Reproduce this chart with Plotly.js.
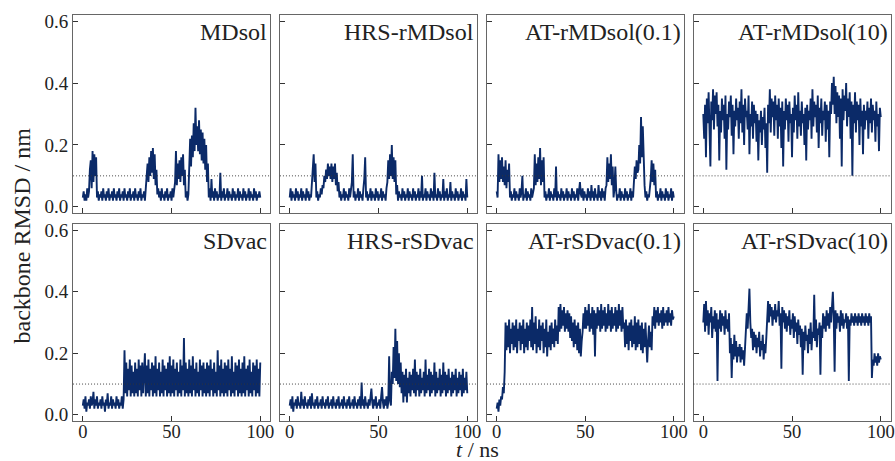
<!DOCTYPE html>
<html>
<head>
<meta charset="utf-8">
<script src="https://cdn.plot.ly/plotly-3.0.1.min.js"></script>
<style>html,body{margin:0;padding:0;background:#fff;}#chart{width:895px;height:461px;}</style>
</head>
<body>
<div id="chart"></div>
<script>
// time step of the sampled trajectories (ns)
const DT = 0.5;
const panelNames = ["MDsol","HRS-rMDsol","AT-rMDsol(0.1)","AT-rMDsol(10)",
                    "SDvac","HRS-rSDvac","AT-rSDvac(0.1)","AT-rSDvac(10)"];
const xTicks = [0, 50, 100];
const yTicks = [0, 0.2, 0.4, 0.6];
const threshold = 0.1;

const rmsdMDsol = [
0.03,0.05,0.02,0.04,0.02,0.06,0.03,0.05,0.12,0.15,
0.06,0.18,0.08,0.17,0.10,0.16,0.03,0.05,0.02,0.04,
0.03,0.05,0.02,0.06,0.03,0.04,0.02,0.05,0.03,0.06,
0.02,0.04,0.03,0.05,0.02,0.06,0.03,0.04,0.02,0.05,
0.03,0.06,0.02,0.04,0.03,0.05,0.02,0.06,0.03,0.04,
0.02,0.05,0.03,0.06,0.02,0.04,0.03,0.05,0.02,0.06,
0.03,0.04,0.02,0.05,0.03,0.06,0.02,0.04,0.03,0.05,
0.02,0.06,0.07,0.14,0.08,0.16,0.10,0.18,0.11,0.19,
0.09,0.17,0.07,0.12,0.04,0.06,0.03,0.05,0.02,0.06,
0.03,0.04,0.02,0.05,0.03,0.06,0.02,0.04,0.03,0.05,
0.02,0.06,0.03,0.05,0.08,0.18,0.07,0.14,0.09,0.15,
0.08,0.16,0.10,0.17,0.07,0.12,0.03,0.05,0.02,0.04,
0.12,0.22,0.13,0.23,0.16,0.27,0.18,0.32,0.20,0.26,
0.18,0.28,0.17,0.25,0.15,0.24,0.14,0.22,0.12,0.20,
0.08,0.14,0.03,0.06,0.02,0.09,0.03,0.05,0.02,0.06,
0.03,0.05,0.02,0.04,0.03,0.11,0.02,0.05,0.03,0.06,
0.02,0.04,0.03,0.06,0.02,0.05,0.03,0.04,0.02,0.06,
0.03,0.05,0.02,0.04,0.03,0.06,0.02,0.05,0.03,0.04,
0.02,0.06,0.03,0.05,0.02,0.04,0.03,0.06,0.02,0.05,
0.03,0.04,0.02,0.06,0.03,0.05,0.02,0.04,0.03,0.05,
0.03];

const rmsdHRSrMDsol = [
0.03,0.06,0.02,0.05,0.03,0.04,0.02,0.06,0.03,0.05,
0.02,0.04,0.03,0.06,0.02,0.05,0.03,0.04,0.02,0.06,
0.03,0.05,0.02,0.04,0.03,0.07,0.12,0.17,0.08,0.14,
0.03,0.05,0.02,0.04,0.03,0.06,0.04,0.07,0.06,0.10,
0.08,0.12,0.09,0.14,0.10,0.13,0.09,0.14,0.08,0.13,
0.09,0.14,0.07,0.11,0.05,0.08,0.03,0.05,0.02,0.04,
0.03,0.06,0.02,0.05,0.03,0.04,0.02,0.06,0.03,0.05,
0.08,0.17,0.03,0.05,0.02,0.04,0.03,0.06,0.02,0.05,
0.03,0.04,0.02,0.06,0.09,0.16,0.03,0.05,0.02,0.04,
0.03,0.06,0.02,0.05,0.03,0.04,0.02,0.06,0.03,0.05,
0.02,0.04,0.03,0.06,0.02,0.05,0.03,0.04,0.02,0.06,
0.08,0.15,0.09,0.17,0.10,0.20,0.09,0.16,0.08,0.15,
0.04,0.07,0.02,0.05,0.03,0.04,0.02,0.06,0.03,0.05,
0.02,0.04,0.03,0.06,0.02,0.05,0.03,0.04,0.02,0.06,
0.03,0.05,0.02,0.04,0.03,0.06,0.02,0.05,0.03,0.10,
0.02,0.04,0.03,0.06,0.02,0.05,0.03,0.04,0.02,0.06,
0.03,0.05,0.02,0.11,0.03,0.04,0.02,0.06,0.03,0.05,
0.02,0.04,0.03,0.09,0.02,0.05,0.03,0.06,0.02,0.04,
0.03,0.08,0.02,0.05,0.03,0.04,0.02,0.06,0.03,0.05,
0.02,0.04,0.03,0.06,0.02,0.05,0.03,0.04,0.02,0.09,
0.03];

const rmsdATrMDsol01 = [
0.05,0.03,0.17,0.08,0.15,0.09,0.16,0.08,0.13,0.07,
0.15,0.06,0.12,0.08,0.14,0.03,0.05,0.02,0.04,0.03,
0.06,0.02,0.05,0.03,0.04,0.02,0.06,0.03,0.05,0.10,
0.02,0.04,0.03,0.06,0.02,0.05,0.03,0.04,0.02,0.06,
0.03,0.05,0.06,0.17,0.07,0.14,0.08,0.16,0.09,0.19,
0.07,0.15,0.08,0.16,0.03,0.05,0.02,0.04,0.03,0.06,
0.02,0.05,0.03,0.04,0.02,0.06,0.03,0.13,0.02,0.05,
0.03,0.04,0.02,0.06,0.03,0.05,0.02,0.04,0.03,0.06,
0.02,0.05,0.03,0.04,0.02,0.06,0.03,0.05,0.02,0.04,
0.03,0.06,0.02,0.05,0.08,0.04,0.03,0.06,0.02,0.05,
0.03,0.04,0.02,0.06,0.03,0.05,0.02,0.07,0.03,0.05,
0.02,0.06,0.03,0.04,0.02,0.07,0.03,0.05,0.02,0.06,
0.03,0.05,0.02,0.06,0.07,0.16,0.08,0.14,0.09,0.17,
0.07,0.13,0.03,0.06,0.13,0.05,0.02,0.04,0.03,0.06,
0.02,0.05,0.03,0.04,0.02,0.06,0.03,0.05,0.02,0.04,
0.03,0.06,0.02,0.05,0.03,0.08,0.13,0.09,0.15,0.11,
0.12,0.20,0.14,0.29,0.16,0.26,0.11,0.07,0.03,0.05,
0.02,0.04,0.03,0.06,0.09,0.15,0.08,0.14,0.07,0.12,
0.03,0.05,0.02,0.04,0.03,0.06,0.02,0.05,0.03,0.04,
0.02,0.06,0.03,0.05,0.02,0.04,0.03,0.06,0.02,0.05,
0.03];

const rmsdATrMDsol10 = [
0.30,0.22,0.33,0.16,0.35,0.27,0.37,0.24,0.13,0.34,
0.28,0.38,0.25,0.36,0.30,0.37,0.26,0.33,0.15,0.31,
0.24,0.35,0.28,0.33,0.22,0.36,0.12,0.30,0.25,0.34,
0.29,0.36,0.23,0.33,0.17,0.31,0.26,0.35,0.28,0.32,
0.22,0.34,0.27,0.38,0.24,0.33,0.20,0.35,0.29,0.31,
0.25,0.36,0.17,0.30,0.26,0.34,0.22,0.33,0.27,0.31,
0.21,0.30,0.15,0.28,0.24,0.31,0.20,0.29,0.25,0.32,
0.19,0.27,0.11,0.33,0.27,0.38,0.24,0.35,0.29,0.34,
0.23,0.36,0.28,0.33,0.22,0.35,0.26,0.32,0.19,0.34,
0.13,0.31,0.25,0.35,0.28,0.33,0.21,0.34,0.27,0.30,
0.16,0.32,0.24,0.36,0.28,0.33,0.22,0.37,0.26,0.31,
0.23,0.34,0.27,0.30,0.20,0.32,0.15,0.33,0.25,0.31,
0.28,0.35,0.22,0.38,0.26,0.34,0.29,0.33,0.24,0.36,
0.19,0.32,0.27,0.35,0.23,0.31,0.28,0.34,0.21,0.33,
0.25,0.31,0.16,0.34,0.30,0.40,0.33,0.42,0.30,0.39,
0.27,0.37,0.29,0.36,0.22,0.35,0.13,0.38,0.28,0.36,
0.31,0.40,0.26,0.35,0.29,0.37,0.22,0.34,0.10,0.33,
0.27,0.37,0.24,0.34,0.28,0.33,0.20,0.35,0.26,0.31,
0.17,0.33,0.25,0.31,0.28,0.34,0.22,0.32,0.27,0.35,
0.24,0.33,0.28,0.31,0.21,0.34,0.26,0.30,0.18,0.32,
0.29];

const rmsdSDvac = [
0.03,0.05,0.02,0.06,0.01,0.04,0.03,0.05,0.02,0.06,
0.03,0.04,0.075,0.02,0.05,0.03,0.06,0.02,0.04,0.03,
0.05,0.02,0.06,0.03,0.04,0.01,0.05,0.03,0.07,0.02,
0.04,0.03,0.06,0.02,0.05,0.03,0.04,0.02,0.06,0.03,
0.05,0.02,0.04,0.03,0.06,0.02,0.05,0.21,0.07,0.17,
0.06,0.15,0.08,0.18,0.06,0.16,0.07,0.14,0.06,0.17,
0.07,0.15,0.06,0.18,0.08,0.16,0.06,0.17,0.07,0.14,
0.20,0.06,0.16,0.07,0.18,0.06,0.15,0.08,0.17,0.06,
0.16,0.07,0.19,0.06,0.15,0.08,0.17,0.06,0.14,0.07,
0.18,0.06,0.16,0.08,0.15,0.06,0.17,0.07,0.19,0.06,
0.16,0.07,0.18,0.06,0.15,0.08,0.17,0.06,0.14,0.07,
0.18,0.06,0.16,0.08,0.25,0.06,0.17,0.07,0.15,0.06,
0.18,0.07,0.16,0.06,0.19,0.08,0.15,0.06,0.17,0.07,
0.14,0.06,0.18,0.08,0.16,0.06,0.17,0.07,0.15,0.06,
0.17,0.07,0.16,0.06,0.18,0.08,0.15,0.06,0.17,0.07,
0.14,0.06,0.21,0.08,0.16,0.06,0.18,0.07,0.15,0.06,
0.17,0.07,0.16,0.06,0.18,0.08,0.15,0.06,0.19,0.07,
0.14,0.06,0.17,0.08,0.16,0.06,0.18,0.07,0.15,0.06,
0.17,0.07,0.19,0.06,0.15,0.08,0.16,0.06,0.18,0.07,
0.14,0.06,0.17,0.08,0.16,0.06,0.18,0.07,0.15,0.06,
0.17];

const rmsdHRSrSDvac = [
0.03,0.05,0.02,0.06,0.01,0.04,0.03,0.05,0.02,0.06,
0.03,0.04,0.02,0.075,0.03,0.05,0.02,0.06,0.03,0.04,
0.02,0.05,0.03,0.06,0.02,0.07,0.03,0.04,0.02,0.05,
0.03,0.06,0.02,0.04,0.03,0.05,0.02,0.06,0.03,0.04,
0.02,0.05,0.03,0.06,0.02,0.04,0.03,0.05,0.02,0.06,
0.03,0.04,0.02,0.05,0.03,0.06,0.02,0.04,0.03,0.05,
0.02,0.06,0.03,0.04,0.02,0.05,0.03,0.06,0.02,0.04,
0.03,0.05,0.02,0.06,0.03,0.04,0.02,0.05,0.03,0.06,
0.02,0.105,0.03,0.05,0.02,0.06,0.03,0.04,0.02,0.05,
0.03,0.06,0.085,0.04,0.02,0.05,0.03,0.06,0.02,0.04,
0.03,0.05,0.02,0.06,0.09,0.04,0.02,0.05,0.03,0.06,
0.02,0.04,0.19,0.05,0.03,0.14,0.10,0.22,0.12,0.28,
0.11,0.24,0.10,0.20,0.09,0.17,0.07,0.14,0.04,0.13,
0.06,0.15,0.04,0.12,0.07,0.14,0.06,0.13,0.08,0.15,
0.07,0.18,0.06,0.14,0.08,0.13,0.06,0.15,0.07,0.12,
0.08,0.14,0.06,0.18,0.07,0.13,0.08,0.15,0.06,0.14,
0.07,0.13,0.08,0.17,0.06,0.14,0.07,0.12,0.08,0.15,
0.06,0.13,0.07,0.17,0.08,0.14,0.06,0.13,0.07,0.15,
0.08,0.12,0.06,0.14,0.07,0.13,0.08,0.15,0.06,0.12,
0.07,0.14,0.08,0.13,0.06,0.15,0.07,0.12,0.08,0.14,
0.07];

const rmsdATrSDvac01 = [
0.02,0.04,0.01,0.05,0.03,0.06,0.05,0.09,0.07,0.14,
0.30,0.21,0.29,0.22,0.31,0.20,0.28,0.23,0.30,0.21,
0.29,0.22,0.31,0.20,0.28,0.24,0.30,0.21,0.29,0.23,
0.31,0.20,0.28,0.22,0.30,0.21,0.29,0.24,0.31,0.22,
0.35,0.21,0.30,0.23,0.32,0.20,0.28,0.22,0.31,0.21,
0.29,0.24,0.30,0.20,0.28,0.22,0.31,0.19,0.27,0.22,
0.29,0.21,0.30,0.23,0.28,0.22,0.31,0.24,0.29,0.23,
0.35,0.27,0.36,0.28,0.34,0.29,0.35,0.27,0.33,0.28,
0.34,0.27,0.33,0.25,0.32,0.24,0.30,0.22,0.31,0.23,
0.29,0.21,0.30,0.20,0.28,0.19,0.24,0.27,0.33,0.28,
0.35,0.28,0.34,0.29,0.36,0.27,0.33,0.28,0.35,0.26,
0.34,0.19,0.33,0.28,0.35,0.29,0.34,0.27,0.36,0.28,
0.34,0.29,0.35,0.27,0.33,0.28,0.36,0.29,0.34,0.27,
0.35,0.28,0.33,0.29,0.35,0.27,0.34,0.28,0.36,0.29,
0.34,0.27,0.35,0.28,0.30,0.22,0.31,0.23,0.29,0.21,
0.30,0.24,0.31,0.22,0.29,0.23,0.32,0.21,0.30,0.22,
0.31,0.23,0.29,0.21,0.30,0.20,0.28,0.22,0.30,0.21,
0.17,0.24,0.29,0.22,0.27,0.21,0.32,0.29,0.35,0.28,
0.34,0.30,0.35,0.29,0.33,0.30,0.34,0.28,0.35,0.29,
0.33,0.30,0.34,0.29,0.35,0.30,0.33,0.29,0.34,0.31,
0.32];

const rmsdATrSDvac10 = [
0.30,0.36,0.27,0.37,0.29,0.34,0.26,0.33,0.30,0.35,
0.25,0.32,0.28,0.34,0.27,0.33,0.11,0.31,0.28,0.34,
0.27,0.33,0.29,0.32,0.26,0.34,0.28,0.31,0.27,0.33,
0.20,0.25,0.12,0.23,0.18,0.26,0.19,0.24,0.17,0.22,
0.19,0.23,0.17,0.22,0.18,0.21,0.16,0.22,0.24,0.33,
0.28,0.36,0.41,0.30,0.25,0.28,0.21,0.27,0.22,0.26,
0.20,0.25,0.22,0.27,0.19,0.24,0.21,0.26,0.18,0.23,
0.20,0.25,0.31,0.37,0.30,0.36,0.32,0.35,0.29,0.34,
0.31,0.36,0.30,0.34,0.32,0.37,0.29,0.33,0.15,0.35,
0.30,0.34,0.28,0.33,0.27,0.32,0.29,0.34,0.26,0.31,
0.28,0.33,0.25,0.32,0.27,0.30,0.23,0.31,0.26,0.29,
0.22,0.28,0.13,0.27,0.21,0.29,0.24,0.26,0.20,0.28,
0.23,0.30,0.21,0.27,0.25,0.39,0.24,0.31,0.22,0.28,
0.26,0.30,0.13,0.29,0.25,0.33,0.28,0.32,0.27,0.34,
0.29,0.33,0.28,0.35,0.30,0.36,0.40,0.32,0.14,0.34,
0.28,0.33,0.30,0.32,0.27,0.34,0.29,0.33,0.28,0.31,
0.30,0.33,0.28,0.32,0.11,0.31,0.29,0.33,0.30,0.32,
0.29,0.33,0.30,0.32,0.29,0.33,0.30,0.32,0.29,0.33,
0.30,0.32,0.29,0.33,0.30,0.32,0.29,0.33,0.30,0.32,
0.12,0.18,0.16,0.20,0.17,0.19,0.16,0.20,0.17,0.19,
0.18];

const series = [rmsdMDsol, rmsdHRSrMDsol, rmsdATrMDsol01, rmsdATrMDsol10,
                rmsdSDvac, rmsdHRSrSDvac, rmsdATrSDvac01, rmsdATrSDvac10];

const LINE = '#0b2a68';
const FONT = 'Liberation Serif, "DejaVu Serif", serif';
const xDomains = [[0.0816,0.3017],[0.3128,0.5330],[0.5441,0.7637],[0.7749,0.9950]];
const yDomains = [[0.538,0.9675],[0.0868,0.514]];

const traces = [];
const layout = {
  width: 895, height: 461,
  margin: {l:0, r:0, t:0, b:0},
  paper_bgcolor: '#fff', plot_bgcolor: '#fff',
  showlegend: false,
  font: {family: FONT, size: 19, color: '#222'},
  shapes: [], annotations: []
};

series.forEach((vals, i) => {
  const n = i + 1;
  const sfx = n === 1 ? '' : String(n);
  const row = i < 4 ? 0 : 1;
  const col = i % 4;
  const time = vals.map((_, k) => k * DT);
  traces.push({
    x: time, y: vals, type: 'scatter', mode: 'lines',
    line: {color: LINE, width: 1.9},
    xaxis: 'x' + sfx, yaxis: 'y' + sfx, hoverinfo: 'skip'
  });
  layout['xaxis' + sfx] = {
    domain: xDomains[col], anchor: 'y' + sfx,
    range: [-5.5, 105.5], tickvals: xTicks, ticktext: xTicks.map(String),
    showticklabels: row === 1, ticks: 'inside', ticklen: 5, tickcolor: '#333', tickwidth: 1,
    ticklabeloverflow: 'allow', ticklabelstandoff: -6,
    showline: true, mirror: true, linecolor: '#666', linewidth: 1,
    showgrid: false, zeroline: false,
    tickfont: {family: FONT, size: 18.5, color: '#222'}
  };
  layout['yaxis' + sfx] = {
    domain: yDomains[row], anchor: 'x' + sfx,
    range: [-0.02, 0.62], tickvals: yTicks, ticktext: yTicks.map(v => v.toFixed(1)),
    showticklabels: col === 0, ticks: 'inside', ticklen: 5, tickcolor: '#333', tickwidth: 1,
    showline: true, mirror: true, linecolor: '#666', linewidth: 1,
    showgrid: false, zeroline: false,
    tickfont: {family: FONT, size: 19, color: '#222'}
  };
  layout.shapes.push({
    type: 'line', xref: 'x' + sfx + ' domain', yref: 'y' + sfx,
    x0: 0, x1: 1, y0: threshold, y1: threshold,
    line: {color: '#333', width: 0.9, dash: '1px,2px'}, layer: 'above'
  });
  layout.annotations.push({
    text: panelNames[i], xref: 'x' + sfx + ' domain', yref: 'y' + sfx + ' domain',
    x: 1, y: 1, xanchor: 'right', yanchor: 'top', xshift: -1, yshift: -2,
    showarrow: false, font: {family: FONT, size: 24, color: '#222'}
  });
});

layout.annotations.push({
  text: 'backbone RMSD / nm', xref: 'paper', yref: 'paper',
  x: 0.025, y: 0.49, textangle: -90, showarrow: false,
  xanchor: 'center', yanchor: 'middle',
  font: {family: FONT, size: 24, color: '#222'}
});
layout.annotations.push({
  text: '<i>t</i> / ns', xref: 'paper', yref: 'paper',
  x: 0.533, y: 0.0, showarrow: false, xanchor: 'center', yanchor: 'bottom',
  yshift: -3,
  font: {family: FONT, size: 22, color: '#222'}
});

Plotly.newPlot('chart', traces, layout, {staticPlot: true, displayModeBar: false});
</script>
</body>
</html>
